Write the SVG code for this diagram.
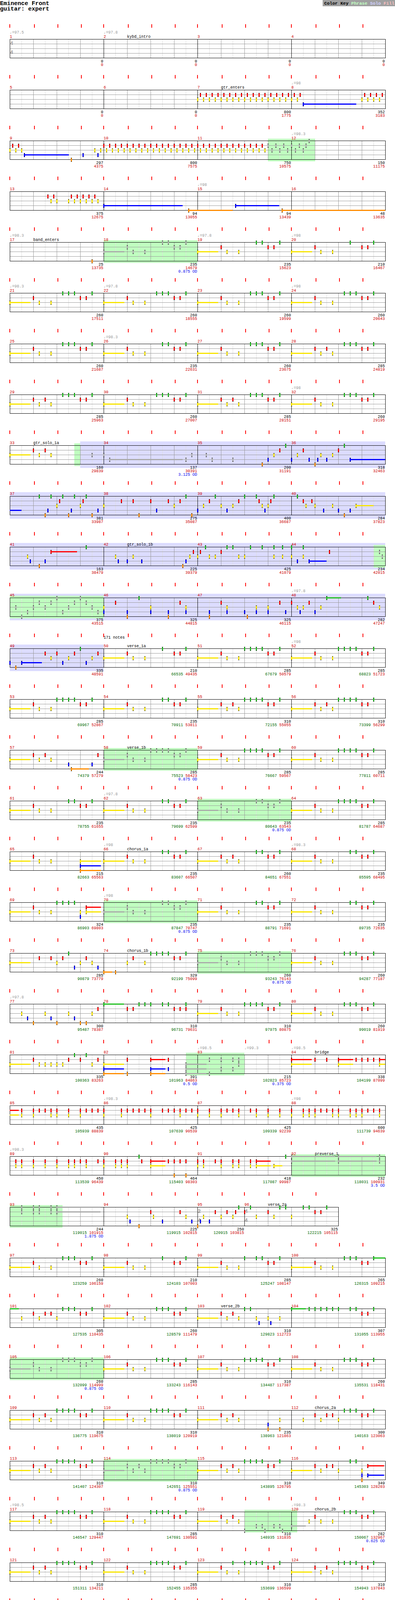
<svg xmlns="http://www.w3.org/2000/svg" width="1010" height="4665" viewBox="0 0 1010 4665">
<style>
text{font-family:"Liberation Mono","DejaVu Sans Mono",monospace;font-size:10px;fill:#000}
.mn{fill:#cc0000}
.tp{fill:#999}
.s1{text-anchor:end}
.s2{text-anchor:end;fill:#cc0000}
.gn{fill:#006a00}
.od{text-anchor:end;fill:#0000ee}
.ts{font-family:"Liberation Sans",Arial,sans-serif;font-weight:bold;font-size:13px;fill:#999}
.ph{fill:#c0ffc0}
.so{fill:#dcdcff}
.tk{fill:#f00}
.l1{stroke:#ddd;fill:none}
.l2{stroke:#999;fill:none}
.l3{stroke:#000;fill:none}
.cG{fill:#1fbf1f}.cR{fill:#f00}.cY{fill:#f7e400}.cB{fill:#00f}.cO{fill:#ff8c00}.cK{fill:#a9a9a9}
.ft{font-size:11.6px;font-weight:bold}
</style>
<defs>
<g id="G" shape-rendering="crispEdges"><rect x="-1.5" y="-4.5" width="3" height="10"/><rect class="cG" x="-1.5" y="-3.5" width="3" height="8"/></g>
<g id="R" shape-rendering="crispEdges"><rect x="-1.5" y="7.5" width="3" height="10"/><rect class="cR" x="-1.5" y="8.5" width="3" height="8"/></g>
<g id="Y" shape-rendering="crispEdges"><rect x="-1.5" y="19.5" width="3" height="10"/><rect class="cY" x="-1.5" y="20.5" width="3" height="8"/></g>
<g id="B" shape-rendering="crispEdges"><rect x="-1.5" y="31.5" width="3" height="10"/><rect class="cB" x="-1.5" y="32.5" width="3" height="8"/></g>
<g id="O" shape-rendering="crispEdges"><rect x="-1.5" y="43.5" width="3" height="10"/><rect class="cO" x="-1.5" y="44.5" width="3" height="8"/></g>
<g id="k0" shape-rendering="crispEdges"><rect x="-1.5" y="-4.5" width="3" height="10"/><rect class="cK" x="-1.5" y="-3.5" width="3" height="8"/></g>
<g id="k1" shape-rendering="crispEdges"><rect x="-1.5" y="7.5" width="3" height="10"/><rect class="cK" x="-1.5" y="8.5" width="3" height="8"/></g>
<g id="k2" shape-rendering="crispEdges"><rect x="-1.5" y="19.5" width="3" height="10"/><rect class="cK" x="-1.5" y="20.5" width="3" height="8"/></g>
<g id="k3" shape-rendering="crispEdges"><rect x="-1.5" y="31.5" width="3" height="10"/><rect class="cK" x="-1.5" y="32.5" width="3" height="8"/></g>
<g id="k4" shape-rendering="crispEdges"><rect x="-1.5" y="43.5" width="3" height="10"/><rect class="cK" x="-1.5" y="44.5" width="3" height="8"/></g>
<g id="RY"><use href="#R"/><use href="#Y"/></g>
<g id="GO"><use href="#G"/><use href="#O"/></g>
<g id="yr4"><use href="#Y"/><use href="#R" x="7.5"/><use href="#Y" x="15"/><use href="#R" x="22.5"/><use href="#Y" x="30"/><use href="#R" x="37.5"/><use href="#Y" x="45"/><use href="#R" x="52.5"/></g>
<g id="ry4"><use href="#R"/><use href="#Y" x="7.5"/><use href="#R" x="15"/><use href="#Y" x="22.5"/><use href="#R" x="30"/><use href="#Y" x="37.5"/><use href="#R" x="45"/><use href="#Y" x="52.5"/></g>
<g id="VE"><rect class="cY" x="0" y="23" width="53" height="3"/><use href="#Y"/><use href="#R" x="60"/><use href="#Y" x="75"/><use href="#Y" x="105"/><use href="#G" x="150"/><use href="#R" x="180"/><use href="#R" x="195"/><use href="#G" x="210"/></g>
<g id="VB"><use href="#VE"/><use href="#G" x="165"/></g>
<g id="VA"><use href="#VB"/><use href="#G" x="135"/></g>
<g id="VC"><use href="#VA"/><use href="#G" x="120"/></g>
<g id="KE"><rect class="cK" x="0" y="23" width="53" height="3"/><use href="#k2"/><use href="#k1" x="60"/><use href="#k2" x="75"/><use href="#k2" x="105"/><use href="#k0" x="150"/><use href="#k1" x="180"/><use href="#k1" x="195"/><use href="#k0" x="210"/></g>
<g id="KB"><use href="#KE"/><use href="#k0" x="165"/></g>
<g id="KA"><use href="#KB"/><use href="#k0" x="135"/></g>
<g id="KC"><use href="#KA"/><use href="#k0" x="120"/></g>
<g id="tk4" class="tk"><rect x="24" y="-38" width="2" height="9"/><rect x="87" y="-38" width="2" height="9"/><rect x="147" y="-38" width="2" height="9"/><rect x="207" y="-38" width="2" height="9"/><rect x="264" y="-38" width="2" height="9"/><rect x="327" y="-38" width="2" height="9"/><rect x="387" y="-38" width="2" height="9"/><rect x="447" y="-38" width="2" height="9"/><rect x="504" y="-38" width="2" height="9"/><rect x="567" y="-38" width="2" height="9"/><rect x="627" y="-38" width="2" height="9"/><rect x="687" y="-38" width="2" height="9"/><rect x="744" y="-38" width="2" height="9"/><rect x="807" y="-38" width="2" height="9"/><rect x="867" y="-38" width="2" height="9"/><rect x="927" y="-38" width="2" height="9"/></g>
<g id="tk3" class="tk"><rect x="24" y="-38" width="2" height="9"/><rect x="87" y="-38" width="2" height="9"/><rect x="147" y="-38" width="2" height="9"/><rect x="207" y="-38" width="2" height="9"/><rect x="264" y="-38" width="2" height="9"/><rect x="327" y="-38" width="2" height="9"/><rect x="387" y="-38" width="2" height="9"/><rect x="447" y="-38" width="2" height="9"/><rect x="504" y="-38" width="2" height="9"/><rect x="567" y="-38" width="2" height="9"/><rect x="624" y="-38" width="2" height="9"/><rect x="687" y="-38" width="2" height="9"/><rect x="747" y="-38" width="2" height="9"/><rect x="807" y="-38" width="2" height="9"/></g>
<g id="st4">
<path class="l1" d="M55.5 0V48M115.5 0V48M175.5 0V48M235.5 0V48M295.5 0V48M355.5 0V48M415.5 0V48M475.5 0V48M535.5 0V48M595.5 0V48M655.5 0V48M715.5 0V48M775.5 0V48M835.5 0V48M895.5 0V48M955.5 0V48"/>
<path class="l2" d="M85.5 0V48M145.5 0V48M205.5 0V48M325.5 0V48M385.5 0V48M445.5 0V48M565.5 0V48M625.5 0V48M685.5 0V48M805.5 0V48M865.5 0V48M925.5 0V48M25 12.5H985M25 24.5H985M25 36.5H985"/>
<path class="l3" d="M25 0.5H986M25 48.5H986M25.5 0V49M265.5 0V49M505.5 0V49M745.5 0V49M985.5 0V49"/>
</g>
<g id="st3">
<path class="l1" d="M55.5 0V48M115.5 0V48M175.5 0V48M235.5 0V48M295.5 0V48M355.5 0V48M415.5 0V48M475.5 0V48M535.5 0V48M595.5 0V48M655.5 0V48M715.5 0V48M775.5 0V48M835.5 0V48"/>
<path class="l2" d="M85.5 0V48M145.5 0V48M205.5 0V48M325.5 0V48M385.5 0V48M445.5 0V48M565.5 0V48M685.5 0V48M745.5 0V48M805.5 0V48M25 12.5H865M25 24.5H865M25 36.5H865"/>
<path class="l3" d="M25 0.5H866M25 48.5H866M25.5 0V49M265.5 0V49M505.5 0V49M625.5 0V49M865.5 0V49"/>
</g>
</defs>
<rect width="1010" height="4665" fill="#fff"/>
<g id="header">
<text x="0" y="13" style="font-size:15px;font-weight:bold">Eminence Front</text>
<text x="0" y="27" style="font-size:15px;font-weight:bold">guitar: expert</text>
<rect x="825" y="0" width="185" height="16" fill="#a0a0a0"/>
<text x="829" y="11.5" style="font-size:11.5px;font-weight:bold">Color Key <tspan fill="#c0ffc0">Phrase</tspan> <tspan fill="#d0d0ff">Solo</tspan> <tspan fill="#ffc0c0">Fill</tspan></text>
</g>

<g id="r0" transform="translate(0,100)">
<use href="#tk4"/><use href="#st4"/>
<text class="ts" x="26" y="15">4</text><text class="ts" x="26" y="38">4</text>
<text class="tp" x="25" y="-14">♩=97.5</text><text class="tp" x="265" y="-14">♩=97.8</text>
<text class="mn" x="25" y="-3">1</text><text class="mn" x="265" y="-3">2</text><text class="mn" x="505" y="-3">3</text><text class="mn" x="745" y="-3">4</text>
<text x="325" y="-3">kybd_intro</text>
<text class="s1" x="264" y="60">0</text><text class="s2" x="264" y="69">0</text>
<text class="s1" x="504" y="60">0</text><text class="s2" x="504" y="69">0</text>
<text class="s1" x="744" y="60">0</text><text class="s2" x="744" y="69">0</text>
<text class="s1" x="984" y="60">0</text><text class="s2" x="984" y="69">0</text>
</g>

<g id="r1" transform="translate(0,230)">
<use href="#tk4"/><use href="#st4"/>
<text class="tp" x="745" y="-14">♩=98</text>
<text class="mn" x="25" y="-3">5</text><text class="mn" x="265" y="-3">6</text><text class="mn" x="505" y="-3">7</text><text class="mn" x="745" y="-3">8</text>
<text x="565" y="-3">gtr_enters</text>
<text class="s1" x="264" y="60">0</text><text class="s2" x="264" y="69">0</text>
<text class="s1" x="504" y="60">0</text><text class="s2" x="504" y="69">0</text>
<text class="s1" x="744" y="60">800</text><text class="s2" x="744" y="69">1775</text>
<text class="s1" x="984" y="60">352</text><text class="s2" x="984" y="69">3183</text>
<use href="#yr4" x="505"/><use href="#yr4" x="565"/><use href="#yr4" x="625"/><use href="#yr4" x="685"/>
<use href="#Y" x="745"/><use href="#R" x="752.5"/><use href="#Y" x="760"/><use href="#R" x="767.5"/>
<rect class="cB" x="775" y="35" width="136" height="3"/><use href="#B" x="775"/>
<use href="#yr4" x="925"/>
</g>

<g id="r2" transform="translate(0,360)">
<use href="#tk4"/>
<rect class="ph" x="685" y="-5" width="121" height="58"/>
<use href="#st4"/>
<text class="tp" x="745" y="-14">♩=98.3</text>
<text class="mn" x="25" y="-3">9</text><text class="mn" x="265" y="-3">10</text><text class="mn" x="505" y="-3">11</text><text class="mn" x="745" y="-3">12</text>
<text class="s1" x="264" y="60">297</text><text class="s2" x="264" y="69">4375</text>
<text class="s1" x="504" y="60">800</text><text class="s2" x="504" y="69">7575</text>
<text class="s1" x="744" y="60">750</text><text class="s2" x="744" y="69">10575</text>
<text class="s1" x="984" y="60">150</text><text class="s2" x="984" y="69">11175</text>
<use href="#Y" x="25"/><use href="#R" x="32.5"/><use href="#Y" x="40"/><use href="#R" x="47.5"/><use href="#Y" x="55"/>
<rect class="cB" x="62" y="35" width="114" height="3"/><use href="#B" x="62.5"/>
<use href="#O" x="182.5"/><use href="#B" x="212"/><use href="#Y" x="242"/><use href="#B" x="250"/><use href="#Y" x="257"/>
<use href="#ry4" x="265"/><use href="#ry4" x="325"/><use href="#ry4" x="385"/><use href="#ry4" x="445"/><use href="#ry4" x="505"/><use href="#ry4" x="565"/><use href="#ry4" x="625"/>
<use href="#k1" x="685"/><use href="#k2" x="695"/><use href="#k1" x="705"/><use href="#k2" x="715"/><use href="#k1" x="725"/><use href="#k2" x="735"/><use href="#k1" x="745"/><use href="#k2" x="755"/><use href="#k1" x="765"/><use href="#k2" x="775"/><use href="#k1" x="782"/><use href="#k0" x="790"/>
</g>

<g id="r3" transform="translate(0,490)">
<use href="#tk4"/><use href="#st4"/>
<text class="tp" x="505" y="-14">♩=98</text>
<text class="mn" x="25" y="-3">13</text><text class="mn" x="265" y="-3">14</text><text class="mn" x="505" y="-3">15</text><text class="mn" x="745" y="-3">16</text>
<text class="s1" x="264" y="60">375</text><text class="s2" x="264" y="69">12675</text>
<text class="s1" x="504" y="60">94</text><text class="s2" x="504" y="69">13055</text>
<text class="s1" x="744" y="60">94</text><text class="s2" x="744" y="69">13439</text>
<text class="s1" x="984" y="60">48</text><text class="s2" x="984" y="69">13635</text>
<use href="#R" x="122.5"/><use href="#Y" x="130"/><use href="#R" x="137.5"/><use href="#Y" x="145"/><use href="#Y" x="175"/><use href="#R" x="182.5"/><use href="#Y" x="190"/><use href="#R" x="197.5"/><use href="#Y" x="205"/><use href="#R" x="212.5"/><use href="#Y" x="220"/><use href="#R" x="227.5"/><use href="#Y" x="235"/><use href="#R" x="242.5"/><use href="#Y" x="250"/>
<rect class="cB" x="265" y="35" width="202" height="3"/><use href="#B" x="265"/>
<rect class="cO" x="482" y="47" width="113" height="3"/><use href="#O" x="482"/>
<rect class="cB" x="602" y="35" width="112" height="3"/><use href="#B" x="602"/>
<rect class="cO" x="721" y="47" width="264" height="3"/><use href="#O" x="721"/>
</g>

<g id="r4" transform="translate(0,620)">
<use href="#tk4"/>
<rect class="ph" x="265" y="-5" width="240" height="58"/>
<use href="#st4"/>
<text class="tp" x="25" y="-14">♩=98.3</text><text class="tp" x="505" y="-14">♩=97.8</text><text class="tp" x="745" y="-14">♩=98</text>
<text class="mn" x="25" y="-3">17</text><text class="mn" x="265" y="-3">18</text><text class="mn" x="505" y="-3">19</text><text class="mn" x="745" y="-3">20</text>
<text x="85" y="-3">band_enters</text>
<text class="s1" x="264" y="60">25</text><text class="s2" x="264" y="69">13735</text>
<text class="s1" x="504" y="60">235</text><text class="s2" x="504" y="69">14679</text><text class="od" x="504" y="78">0.875 OD</text>
<text class="s1" x="744" y="60">235</text><text class="s2" x="744" y="69">15623</text>
<text class="s1" x="984" y="60">210</text><text class="s2" x="984" y="69">16467</text>
<use href="#O" x="235"/><use href="#KB" x="265"/><use href="#VB" x="505"/><use href="#VE" x="745"/>
</g>

<g id="r5" transform="translate(0,750)">
<use href="#tk4"/><use href="#st4"/>
<text class="tp" x="25" y="-14">♩=98.3</text><text class="tp" x="265" y="-14">♩=97.8</text><text class="tp" x="745" y="-14">♩=98</text>
<text class="mn" x="25" y="-3">21</text><text class="mn" x="265" y="-3">22</text><text class="mn" x="505" y="-3">23</text><text class="mn" x="745" y="-3">24</text>
<text class="s1" x="264" y="60">260</text><text class="s2" x="264" y="69">17511</text>
<text class="s1" x="504" y="60">260</text><text class="s2" x="504" y="69">18555</text>
<text class="s1" x="744" y="60">260</text><text class="s2" x="744" y="69">19599</text>
<text class="s1" x="984" y="60">260</text><text class="s2" x="984" y="69">20643</text>
<use href="#VA" x="25"/><use href="#VA" x="265"/><use href="#VA" x="505"/><use href="#VA" x="745"/>
</g>

<g id="r6" transform="translate(0,880)">
<use href="#tk4"/><use href="#st4"/>
<text class="tp" x="265" y="-14">♩=98.3</text>
<text class="mn" x="25" y="-3">25</text><text class="mn" x="265" y="-3">26</text><text class="mn" x="505" y="-3">27</text><text class="mn" x="745" y="-3">28</text>
<text class="s1" x="264" y="60">260</text><text class="s2" x="264" y="69">21687</text>
<text class="s1" x="504" y="60">235</text><text class="s2" x="504" y="69">22631</text>
<text class="s1" x="744" y="60">260</text><text class="s2" x="744" y="69">23675</text>
<text class="s1" x="984" y="60">285</text><text class="s2" x="984" y="69">24819</text>
<use href="#VA" x="25"/><use href="#VB" x="265"/><use href="#VA" x="505"/><use href="#VA" x="745"/><use href="#R" x="835"/>
</g>

<g id="r7" transform="translate(0,1010)">
<use href="#tk4"/><use href="#st4"/>
<text class="tp" x="745" y="-14">♩=98</text>
<text class="mn" x="25" y="-3">29</text><text class="mn" x="265" y="-3">30</text><text class="mn" x="505" y="-3">31</text><text class="mn" x="745" y="-3">32</text>
<text class="s1" x="264" y="60">285</text><text class="s2" x="264" y="69">25963</text>
<text class="s1" x="504" y="60">260</text><text class="s2" x="504" y="69">27007</text>
<text class="s1" x="744" y="60">285</text><text class="s2" x="744" y="69">28151</text>
<text class="s1" x="984" y="60">260</text><text class="s2" x="984" y="69">29195</text>
<use href="#VA" x="25"/><use href="#R" x="115"/><use href="#VA" x="265"/><use href="#VA" x="505"/><use href="#R" x="595"/><use href="#VA" x="745"/>
</g>

<g id="r8" transform="translate(0,1140)">
<use href="#tk4"/>
<rect class="so" x="205" y="-10" width="780" height="68"/>
<rect class="ph" x="190" y="-5" width="15" height="58"/>
<use href="#st4"/>
<text class="mn" x="25" y="-3">33</text><text class="mn" x="265" y="-3">34</text><text class="mn" x="505" y="-3">35</text><text class="mn" x="745" y="-3">36</text>
<text x="85" y="-3">gtr_solo_1a</text>
<text class="s1" x="264" y="60">160</text><text class="s2" x="264" y="69">29839</text>
<text class="s1" x="504" y="60">137</text><text class="s2" x="504" y="69">30391</text><text class="od" x="504" y="78">3.125 OD</text>
<text class="s1" x="744" y="60">200</text><text class="s2" x="744" y="69">31191</text>
<text class="s1" x="984" y="60">318</text><text class="s2" x="984" y="69">32463</text>
<rect class="cY" x="25" y="23" width="53" height="3"/><use href="#Y" x="25"/><use href="#R" x="85"/><use href="#Y" x="100"/><use href="#R" x="115"/><use href="#Y" x="130"/>
<use href="#k2" x="235"/><use href="#k2" x="265"/><rect class="cK" x="280" y="35" width="187" height="3"/><use href="#k3" x="280"/><use href="#k3" x="475"/><use href="#k2" x="490"/>
<use href="#k2" x="527"/><use href="#k3" x="542"/><use href="#k3" x="595"/>
<use href="#O" x="670"/><use href="#B" x="685"/><use href="#Y" x="700"/><use href="#R" x="715"/><use href="#G" x="730"/>
<use href="#B" x="745"/><use href="#Y" x="760"/><use href="#R" x="775"/><use href="#B" x="790"/><use href="#O" x="805"/><use href="#B" x="812"/><use href="#Y" x="820"/><use href="#B" x="835"/><use href="#Y" x="850"/><use href="#R" x="865"/><use href="#G" x="880"/>
<rect class="cB" x="895" y="35" width="90" height="3"/><use href="#B" x="895"/>
</g>

<g id="r9" transform="translate(0,1270)">
<use href="#tk4"/>
<rect class="so" x="25" y="-10" width="960" height="68"/>
<use href="#st4"/>
<text class="mn" x="25" y="-3">37</text><text class="mn" x="265" y="-3">38</text><text class="mn" x="505" y="-3">39</text><text class="mn" x="745" y="-3">40</text>
<text class="s1" x="264" y="60">381</text><text class="s2" x="264" y="69">33987</text>
<text class="s1" x="504" y="60">275</text><text class="s2" x="504" y="69">35087</text>
<text class="s1" x="744" y="60">400</text><text class="s2" x="744" y="69">36687</text>
<text class="s1" x="984" y="60">284</text><text class="s2" x="984" y="69">37823</text>
<rect class="cB" x="25" y="35" width="30" height="3"/>
<use href="#G" x="100"/><use href="#G" x="130"/><use href="#G" x="160"/><use href="#G" x="190"/><use href="#G" x="220"/><use href="#R" x="152"/><use href="#R" x="212"/><use href="#Y" x="145"/><use href="#Y" x="205"/><use href="#B" x="122"/><use href="#B" x="182"/><use href="#B" x="250"/><use href="#O" x="115"/><use href="#O" x="175"/><use href="#O" x="235"/>
<use href="#Y" x="265"/><use href="#R" x="310"/><use href="#R" x="340"/><use href="#R" x="385"/><use href="#R" x="430"/><use href="#R" x="460"/><use href="#O" x="355"/><use href="#B" x="400"/><use href="#Y" x="445"/><use href="#G" x="475"/><use href="#O" x="490"/>
<use href="#B" x="505"/><use href="#Y" x="520"/><use href="#R" x="535"/><use href="#G" x="550"/><use href="#Y" x="565"/><use href="#B" x="580"/><use href="#Y" x="595"/><use href="#R" x="610"/><use href="#G" x="625"/><use href="#G" x="655"/><use href="#R" x="662"/><use href="#Y" x="670"/><use href="#B" x="677"/><use href="#Y" x="685"/><use href="#R" x="692"/><use href="#G" x="700"/>
<use href="#G" x="760"/><use href="#R" x="775"/><use href="#Y" x="782"/><use href="#R" x="797"/><use href="#Y" x="805"/><use href="#B" x="827"/><use href="#Y" x="850"/><use href="#B" x="865"/><use href="#O" x="880"/><use href="#B" x="895"/>
<rect class="cY" x="910" y="23" width="45" height="3"/><use href="#Y" x="910"/>
</g>

<g id="r10" transform="translate(0,1400)">
<use href="#tk4"/>
<rect class="so" x="25" y="-10" width="960" height="68"/>
<rect class="ph" x="955" y="-5" width="30" height="58"/>
<use href="#st4"/>
<text class="mn" x="25" y="-3">41</text><text class="mn" x="265" y="-3">42</text><text class="mn" x="505" y="-3">43</text><text class="mn" x="745" y="-3">44</text>
<text x="325" y="-3">gtr_solo_1b</text>
<text class="s1" x="264" y="60">163</text><text class="s2" x="264" y="69">38479</text>
<text class="s1" x="504" y="60">225</text><text class="s2" x="504" y="69">39379</text>
<text class="s1" x="744" y="60">425</text><text class="s2" x="744" y="69">41079</text>
<text class="s1" x="984" y="60">234</text><text class="s2" x="984" y="69">42015</text>
<use href="#Y" x="70"/><use href="#B" x="77"/><use href="#O" x="100"/><use href="#B" x="115"/><rect class="cR" x="130" y="11" width="67" height="3"/><use href="#R" x="130"/><use href="#G" x="220"/>
<use href="#Y" x="295"/><use href="#B" x="302"/><use href="#B" x="325"/><use href="#Y" x="340"/><use href="#B" x="362"/><use href="#O" x="467"/><use href="#B" x="475"/><use href="#Y" x="485"/><use href="#R" x="494"/>
<use href="#Y" x="505"/><use href="#R" x="512"/><use href="#G" x="525"/><use href="#Y" x="535"/><use href="#Y" x="550"/><use href="#R" x="565"/><use href="#G" x="580"/><use href="#G" x="595"/><use href="#Y" x="610"/><use href="#Y" x="625"/><use href="#G" x="640"/><use href="#G" x="670"/><use href="#G" x="700"/><use href="#Y" x="700"/><use href="#G" x="722"/><use href="#Y" x="722"/>
<use href="#G" x="745"/><use href="#Y" x="745"/><use href="#B" x="760"/><use href="#G" x="775"/><use href="#Y" x="775"/><rect class="cB" x="790" y="35" width="45" height="3"/><use href="#B" x="790"/><use href="#R" x="842"/><use href="#k1" x="970"/><use href="#k2" x="977"/>
</g>

<g id="r11" transform="translate(0,1530)">
<use href="#tk4"/>
<rect class="so" x="25" y="-10" width="960" height="68"/>
<rect class="ph" x="25" y="-5" width="240" height="58"/>
<use href="#st4"/>
<text class="tp" x="745" y="-14">♩=97.8</text>
<text class="mn" x="25" y="-3">45</text><text class="mn" x="265" y="-3">46</text><text class="mn" x="505" y="-3">47</text><text class="mn" x="745" y="-3">48</text>
<text class="s1" x="264" y="60">375</text><text class="s2" x="264" y="69">43515</text>
<text class="s1" x="504" y="60">325</text><text class="s2" x="504" y="69">44815</text>
<text class="s1" x="744" y="60">325</text><text class="s2" x="744" y="69">46115</text>
<text class="s1" x="984" y="60">282</text><text class="s2" x="984" y="69">47247</text>
<use href="#k2" x="40"/><use href="#k4" x="55"/><use href="#k3" x="70"/><use href="#k2" x="85"/><use href="#k1" x="100"/><use href="#k2" x="115"/><use href="#k1" x="130"/><use href="#k0" x="145"/><use href="#k3" x="160"/><use href="#k2" x="175"/><use href="#k1" x="190"/><use href="#k0" x="205"/><use href="#k1" x="220"/><use href="#k2" x="235"/><use href="#k3" x="250"/>
<use href="#Y" x="265"/><use href="#B" x="265"/><use href="#R" x="295"/><use href="#B" x="325"/><use href="#O" x="325"/><use href="#G" x="355"/><use href="#Y" x="385"/><use href="#B" x="385"/><use href="#B" x="430"/><use href="#O" x="430"/><use href="#R" x="460"/><use href="#Y" x="475"/><use href="#B" x="475"/>
<use href="#B" x="535"/><use href="#O" x="535"/><use href="#R" x="565"/><use href="#Y" x="580"/><use href="#B" x="580"/><use href="#B" x="625"/><use href="#O" x="632"/><use href="#Y" x="655"/><use href="#B" x="655"/><use href="#Y" x="685"/><use href="#B" x="685"/><use href="#R" x="715"/><use href="#B" x="730"/>
<use href="#R" x="745"/><use href="#Y" x="760"/><use href="#B" x="767"/><use href="#Y" x="775"/><use href="#R" x="790"/><use href="#B" x="805"/><use href="#Y" x="820"/><rect class="cG" x="835" y="-1" width="37" height="3"/><use href="#G" x="835"/><use href="#G" x="940"/><use href="#R" x="955"/><use href="#Y" x="970"/>
</g>

<g id="r12" transform="translate(0,1660)">
<use href="#tk4"/>
<rect class="so" x="25" y="-10" width="240" height="68"/>
<use href="#st4"/>
<text x="265" y="-25">171 notes</text>
<text class="tp" x="745" y="-14">♩=98</text>
<text class="mn" x="25" y="-3">49</text><text class="mn" x="265" y="-3">50</text><text class="mn" x="505" y="-3">51</text><text class="mn" x="745" y="-3">52</text>
<text x="325" y="-3">verse_1a</text>
<text class="s1" x="264" y="60">335</text><text class="s2" x="264" y="69">48591</text>
<text class="s1" x="504" y="60">210</text><text class="s2" x="504" y="69"><tspan class="gn">66535</tspan> 49435</text>
<text class="s1" x="744" y="60">285</text><text class="s2" x="744" y="69"><tspan class="gn">67679</tspan> 50579</text>
<text class="s1" x="984" y="60">285</text><text class="s2" x="984" y="69"><tspan class="gn">68823</tspan> 51723</text>
<use href="#B" x="25"/><use href="#O" x="40"/><rect class="cB" x="55" y="35" width="52" height="3"/><use href="#B" x="55"/><use href="#R" x="115"/><use href="#Y" x="130"/><use href="#R" x="145"/><use href="#B" x="160"/><use href="#Y" x="175"/><use href="#R" x="190"/><use href="#G" x="205"/><use href="#B" x="220"/><use href="#Y" x="235"/><use href="#R" x="250"/>
<use href="#VE" x="265"/><use href="#VC" x="505"/><use href="#VC" x="745"/>
</g>

<g id="r13" transform="translate(0,1790)">
<use href="#tk4"/><use href="#st4"/>
<text class="mn" x="25" y="-3">53</text><text class="mn" x="265" y="-3">54</text><text class="mn" x="505" y="-3">55</text><text class="mn" x="745" y="-3">56</text>
<text class="s1" x="264" y="60">285</text><text class="s2" x="264" y="69"><tspan class="gn">69967</tspan> 52867</text>
<text class="s1" x="504" y="60">235</text><text class="s2" x="504" y="69"><tspan class="gn">70911</tspan> 53811</text>
<text class="s1" x="744" y="60">310</text><text class="s2" x="744" y="69"><tspan class="gn">72155</tspan> 55055</text>
<text class="s1" x="984" y="60">310</text><text class="s2" x="984" y="69"><tspan class="gn">73399</tspan> 56299</text>
<use href="#VC" x="25"/><use href="#VB" x="265"/><use href="#VC" x="505"/><use href="#R" x="595"/><use href="#VC" x="745"/><use href="#R" x="835"/>
</g>

<g id="r14" transform="translate(0,1920)">
<use href="#tk4"/>
<rect class="ph" x="265" y="-5" width="240" height="58"/>
<use href="#st4"/>
<text class="mn" x="25" y="-3">57</text><text class="mn" x="265" y="-3">58</text><text class="mn" x="505" y="-3">59</text><text class="mn" x="745" y="-3">60</text>
<text x="325" y="-3">verse_1b</text>
<text class="s1" x="264" y="60">244</text><text class="s2" x="264" y="69"><tspan class="gn">74379</tspan> 57279</text>
<text class="s1" x="504" y="60">285</text><text class="s2" x="504" y="69"><tspan class="gn">75523</tspan> 58423</text><text class="od" x="504" y="78">0.875 OD</text>
<text class="s1" x="744" y="60">285</text><text class="s2" x="744" y="69"><tspan class="gn">76667</tspan> 59567</text>
<text class="s1" x="984" y="60">285</text><text class="s2" x="984" y="69"><tspan class="gn">77811</tspan> 60711</text>
<rect class="cY" x="25" y="23" width="53" height="3"/><use href="#Y" x="25"/><use href="#R" x="85"/><use href="#Y" x="100"/><use href="#R" x="115"/><use href="#Y" x="130"/><use href="#B" x="175"/><rect class="cO" x="182" y="47" width="45" height="3"/><use href="#O" x="182"/><use href="#B" x="235"/><use href="#R" x="250"/>
<use href="#KC" x="265"/><use href="#VC" x="505"/><use href="#VC" x="745"/>
</g>

<g id="r15" transform="translate(0,2050)">
<use href="#tk4"/>
<rect class="ph" x="505" y="-5" width="240" height="58"/>
<use href="#st4"/>
<text class="tp" x="265" y="-14">♩=97.8</text>
<text class="mn" x="25" y="-3">61</text><text class="mn" x="265" y="-3">62</text><text class="mn" x="505" y="-3">63</text><text class="mn" x="745" y="-3">64</text>
<text class="s1" x="264" y="60">235</text><text class="s2" x="264" y="69"><tspan class="gn">78755</tspan> 61655</text>
<text class="s1" x="504" y="60">235</text><text class="s2" x="504" y="69"><tspan class="gn">79699</tspan> 62599</text>
<text class="s1" x="744" y="60">235</text><text class="s2" x="744" y="69"><tspan class="gn">80643</tspan> 63543</text><text class="od" x="744" y="78">0.875 OD</text>
<text class="s1" x="984" y="60">285</text><text class="s2" x="984" y="69"><tspan class="gn">81787</tspan> 64687</text>
<use href="#VB" x="25"/><use href="#VB" x="265"/><use href="#KB" x="505"/><use href="#VC" x="745"/>
</g>

<g id="r16" transform="translate(0,2180)">
<use href="#tk4"/><use href="#st4"/>
<text class="tp" x="265" y="-14">♩=98</text><text class="tp" x="745" y="-14">♩=98.3</text>
<text class="mn" x="25" y="-3">65</text><text class="mn" x="265" y="-3">66</text><text class="mn" x="505" y="-3">67</text><text class="mn" x="745" y="-3">68</text>
<text x="325" y="-3">chorus_1a</text>
<text class="s1" x="264" y="60">215</text><text class="s2" x="264" y="69"><tspan class="gn">82663</tspan> 65563</text>
<text class="s1" x="504" y="60">235</text><text class="s2" x="504" y="69"><tspan class="gn">83607</tspan> 66507</text>
<text class="s1" x="744" y="60">260</text><text class="s2" x="744" y="69"><tspan class="gn">84651</tspan> 67551</text>
<text class="s1" x="984" y="60">235</text><text class="s2" x="984" y="69"><tspan class="gn">85595</tspan> 68495</text>
<rect class="cY" x="25" y="23" width="53" height="3"/><use href="#Y" x="25"/><use href="#R" x="85"/><use href="#Y" x="100"/><use href="#Y" x="130"/>
<rect class="cY" x="205" y="23" width="53" height="3"/><rect class="cB" x="205" y="35" width="53" height="3"/><rect class="cO" x="205" y="47" width="53" height="3"/><use href="#Y" x="205"/><use href="#B" x="205"/><use href="#O" x="205"/>
<use href="#VB" x="265"/><use href="#VB" x="505"/><use href="#R" x="595"/><use href="#VB" x="745"/>
</g>

<g id="r17" transform="translate(0,2310)">
<use href="#tk4"/>
<rect class="ph" x="265" y="-5" width="240" height="58"/>
<use href="#st4"/>
<text class="tp" x="265" y="-14">♩=98</text>
<text class="mn" x="25" y="-3">69</text><text class="mn" x="265" y="-3">70</text><text class="mn" x="505" y="-3">71</text><text class="mn" x="745" y="-3">72</text>
<text class="s1" x="264" y="60">324</text><text class="s2" x="264" y="69"><tspan class="gn">86903</tspan> 69803</text>
<text class="s1" x="504" y="60">235</text><text class="s2" x="504" y="69"><tspan class="gn">87847</tspan> 70747</text><text class="od" x="504" y="78">0.875 OD</text>
<text class="s1" x="744" y="60">235</text><text class="s2" x="744" y="69"><tspan class="gn">88791</tspan> 71691</text>
<text class="s1" x="984" y="60">235</text><text class="s2" x="984" y="69"><tspan class="gn">89735</tspan> 72635</text>
<rect class="cY" x="25" y="23" width="53" height="3"/><use href="#Y" x="25"/><use href="#R" x="85"/><use href="#Y" x="100"/><use href="#Y" x="130"/><use href="#G" x="145"/><use href="#G" x="160"/><use href="#G" x="175"/><use href="#G" x="190"/><use href="#Y" x="205"/><use href="#B" x="205"/>
<rect class="cR" x="220" y="11" width="38" height="3"/><rect class="cY" x="220" y="23" width="38" height="3"/><use href="#R" x="220"/><use href="#Y" x="220"/>
<use href="#KB" x="265"/><use href="#VB" x="505"/><use href="#VB" x="745"/>
</g>

<g id="r18" transform="translate(0,2440)">
<use href="#tk4"/>
<rect class="ph" x="505" y="-5" width="240" height="58"/>
<use href="#st4"/>
<text class="mn" x="25" y="-3">73</text><text class="mn" x="265" y="-3">74</text><text class="mn" x="505" y="-3">75</text><text class="mn" x="745" y="-3">76</text>
<text x="325" y="-3">chorus_1b</text>
<text class="s1" x="264" y="60">285</text><text class="s2" x="264" y="69"><tspan class="gn">90879</tspan> 73779</text>
<text class="s1" x="504" y="60">329</text><text class="s2" x="504" y="69"><tspan class="gn">92199</tspan> 75099</text>
<text class="s1" x="744" y="60">260</text><text class="s2" x="744" y="69"><tspan class="gn">93243</tspan> 76143</text><text class="od" x="744" y="78">0.875 OD</text>
<text class="s1" x="984" y="60">260</text><text class="s2" x="984" y="69"><tspan class="gn">94287</tspan> 77187</text>
<rect class="cY" x="25" y="23" width="53" height="3"/><use href="#Y" x="25"/><use href="#R" x="100"/><use href="#R" x="130"/><use href="#Y" x="145"/><use href="#R" x="160"/><use href="#G" x="175"/><use href="#B" x="190"/><use href="#Y" x="205"/><use href="#R" x="220"/><use href="#Y" x="235"/><use href="#B" x="250"/>
<rect class="cO" x="265" y="47" width="22" height="3"/><use href="#O" x="265"/><use href="#O" x="295"/><use href="#Y" x="325"/><use href="#R" x="340"/><use href="#Y" x="370"/><use href="#G" x="385"/><use href="#G" x="400"/><use href="#G" x="415"/><use href="#G" x="430"/><use href="#R" x="445"/><use href="#R" x="460"/><use href="#G" x="475"/>
<use href="#KA" x="505"/><use href="#VA" x="745"/>
</g>

<g id="r19" transform="translate(0,2570)">
<use href="#tk4"/><use href="#st4"/>
<text class="tp" x="25" y="-14">♩=97.8</text>
<text class="mn" x="25" y="-3">77</text><text class="mn" x="265" y="-3">78</text><text class="mn" x="505" y="-3">79</text><text class="mn" x="745" y="-3">80</text>
<text class="s1" x="264" y="60">300</text><text class="s2" x="264" y="69"><tspan class="gn">95487</tspan> 78387</text>
<text class="s1" x="504" y="60">310</text><text class="s2" x="504" y="69"><tspan class="gn">96731</tspan> 79631</text>
<text class="s1" x="744" y="60">310</text><text class="s2" x="744" y="69"><tspan class="gn">97975</tspan> 80875</text>
<text class="s1" x="984" y="60">260</text><text class="s2" x="984" y="69"><tspan class="gn">99019</tspan> 81919</text>
<use href="#Y" x="55"/><use href="#B" x="70"/><use href="#O" x="85"/><use href="#Y" x="115"/><use href="#B" x="130"/><use href="#O" x="145"/><use href="#Y" x="175"/><use href="#B" x="190"/><use href="#O" x="205"/><use href="#O" x="220"/><use href="#Y" x="235"/><use href="#R" x="250"/>
<rect class="cG" x="265" y="-1" width="52" height="3"/><use href="#G" x="265"/><use href="#R" x="325"/><use href="#R" x="340"/><use href="#G" x="355"/><use href="#G" x="370"/><use href="#G" x="385"/><use href="#G" x="415"/><use href="#G" x="430"/><use href="#R" x="445"/><use href="#R" x="460"/><use href="#R" x="475"/><use href="#G" x="475"/>
<use href="#VC" x="505"/><use href="#VA" x="745"/>
</g>

<g id="r20" transform="translate(0,2700)">
<use href="#tk4"/>
<rect class="ph" x="475" y="-5" width="150" height="58"/>
<use href="#st4"/>
<text class="tp" x="505" y="-14">♩=98.5</text><text class="tp" x="625" y="-14">♩=99.3</text><text class="tp" x="745" y="-14">♩=98.5</text>
<text class="mn" x="25" y="-3">81</text><text class="mn" x="265" y="-3">82</text><text class="mn" x="505" y="-3">83</text><text class="mn" x="745" y="-3">84</text>
<text x="805" y="-3">bridge</text>
<text class="s1" x="264" y="60">335</text><text class="s2" x="264" y="69"><tspan class="gn">100363</tspan> 83263</text>
<text class="s1" x="504" y="60">391</text><text class="s2" x="504" y="69"><tspan class="gn">101963</tspan> 84863</text><text class="od" x="504" y="78">0.5 OD</text>
<text class="s1" x="744" y="60">215</text><text class="s2" x="744" y="69"><tspan class="gn">102823</tspan> 85723</text><text class="od" x="744" y="78">0.375 OD</text>
<text class="s1" x="984" y="60">338</text><text class="s2" x="984" y="69"><tspan class="gn">104199</tspan> 87099</text>
<rect class="cY" x="25" y="23" width="53" height="3"/><use href="#Y" x="25"/><use href="#R" x="85"/><use href="#Y" x="100"/><use href="#Y" x="115"/><use href="#Y" x="130"/><use href="#Y" x="145"/><use href="#Y" x="160"/><use href="#R" x="175"/><use href="#G" x="190"/><use href="#R" x="205"/><use href="#G" x="220"/><use href="#Y" x="235"/><use href="#R" x="250"/>
<rect class="cY" x="265" y="23" width="52" height="3"/><rect class="cB" x="265" y="35" width="52" height="3"/><rect class="cO" x="265" y="47" width="52" height="3"/><use href="#Y" x="265"/><use href="#B" x="265"/><use href="#O" x="265"/>
<use href="#R" x="325"/><use href="#O" x="325"/>
<rect class="cR" x="385" y="11" width="38" height="3"/><rect class="cB" x="385" y="35" width="38" height="3"/><rect class="cO" x="385" y="47" width="38" height="3"/><use href="#R" x="385"/><use href="#B" x="385"/><use href="#O" x="385"/>
<use href="#R" x="430"/><use href="#B" x="430"/>
<rect class="cK" x="475" y="23" width="53" height="3"/><rect class="cK" x="475" y="35" width="53" height="3"/><rect class="cK" x="475" y="47" width="53" height="3"/><use href="#k2" x="475"/><use href="#k3" x="475"/><use href="#k4" x="475"/>
<use href="#k1" x="535"/><use href="#k4" x="535"/><use href="#k1" x="565"/><use href="#k3" x="565"/><use href="#k1" x="595"/><use href="#k3" x="595"/><use href="#k1" x="610"/><use href="#k2" x="610"/>
<rect class="cR" x="745" y="11" width="52" height="3"/><rect class="cY" x="745" y="23" width="52" height="3"/><use href="#R" x="745"/><use href="#Y" x="745"/>
<use href="#R" x="805"/><use href="#R" x="835"/>
<rect class="cR" x="865" y="11" width="38" height="3"/><rect class="cY" x="865" y="23" width="38" height="3"/><use href="#R" x="865"/><use href="#Y" x="865"/>
<use href="#R" x="910"/><use href="#R" x="925"/><use href="#R" x="940"/><use href="#R" x="955"/>
<rect class="cR" x="970" y="11" width="15" height="3"/><rect class="cY" x="970" y="23" width="15" height="3"/><use href="#R" x="970"/><use href="#Y" x="970"/>
</g>

<g id="r21" transform="translate(0,2830)">
<use href="#tk4"/><use href="#st4"/>
<text class="tp" x="265" y="-14">♩=98.3</text><text class="tp" x="745" y="-14">♩=98</text>
<text class="mn" x="25" y="-3">85</text><text class="mn" x="265" y="-3">86</text><text class="mn" x="505" y="-3">87</text><text class="mn" x="745" y="-3">88</text>
<text class="s1" x="264" y="60">435</text><text class="s2" x="264" y="69"><tspan class="gn">105939</tspan> 88839</text>
<text class="s1" x="504" y="60">425</text><text class="s2" x="504" y="69"><tspan class="gn">107639</tspan> 90539</text>
<text class="s1" x="744" y="60">425</text><text class="s2" x="744" y="69"><tspan class="gn">109339</tspan> 92239</text>
<text class="s1" x="984" y="60">600</text><text class="s2" x="984" y="69"><tspan class="gn">111739</tspan> 94639</text>
<rect class="cR" x="25" y="11" width="23" height="3"/><rect class="cY" x="25" y="23" width="23" height="3"/>
<use href="#RY" x="55"/><use href="#RY" x="85"/><use href="#R" x="100"/><use href="#R" x="115"/><use href="#RY" x="130"/><use href="#RY" x="145"/><use href="#RY" x="175"/><use href="#RY" x="205"/><use href="#R" x="220"/><use href="#R" x="235"/><use href="#R" x="250"/>
<use href="#RY" x="265"/><use href="#RY" x="310"/><use href="#R" x="325"/><use href="#R" x="340"/><use href="#R" x="355"/><use href="#R" x="370"/><use href="#RY" x="385"/><use href="#R" x="415"/><use href="#R" x="430"/><use href="#R" x="445"/><use href="#RY" x="460"/><use href="#R" x="475"/><use href="#R" x="490"/>
<use href="#RY" x="505"/><use href="#RY" x="535"/><use href="#RY" x="565"/><use href="#R" x="580"/><use href="#R" x="595"/><use href="#RY" x="610"/><use href="#R" x="640"/><use href="#RY" x="655"/><use href="#RY" x="685"/><use href="#RY" x="715"/>
<use href="#RY" x="745"/><use href="#RY" x="775"/><use href="#RY" x="790"/><use href="#RY" x="805"/><use href="#R" x="820"/><use href="#R" x="835"/><use href="#RY" x="850"/><use href="#RY" x="865"/><use href="#RY" x="895"/><use href="#RY" x="910"/><use href="#RY" x="925"/><use href="#R" x="940"/><use href="#R" x="955"/><use href="#RY" x="970"/>
</g>

<g id="r22" transform="translate(0,2960)">
<use href="#tk4"/>
<rect class="ph" x="745" y="-5" width="240" height="58"/>
<use href="#st4"/>
<text class="tp" x="25" y="-14">♩=98.3</text>
<text class="mn" x="25" y="-3">89</text><text class="mn" x="265" y="-3">90</text><text class="mn" x="505" y="-3">91</text><text class="mn" x="745" y="-3">92</text>
<text x="805" y="-3">preverse_1</text>
<text class="s1" x="264" y="60">450</text><text class="s2" x="264" y="69"><tspan class="gn">113539</tspan> 96439</text>
<text class="s1" x="504" y="60">464</text><text class="s2" x="504" y="69"><tspan class="gn">115403</tspan> 98303</text>
<text class="s1" x="744" y="60">418</text><text class="s2" x="744" y="69"><tspan class="gn">117087</tspan> 99987</text>
<text class="s1" x="984" y="60">232</text><text class="s2" x="984" y="69"><tspan class="gn">118031</tspan> 100931</text><text class="od" x="984" y="78">3.5 OD</text>
<use href="#RY" x="40"/><use href="#RY" x="55"/><use href="#RY" x="85"/><use href="#RY" x="115"/><use href="#RY" x="145"/><use href="#RY" x="175"/><use href="#RY" x="190"/><use href="#R" x="205"/><use href="#RY" x="220"/><use href="#R" x="250"/>
<use href="#RY" x="265"/><use href="#RY" x="295"/><use href="#RY" x="310"/><use href="#RY" x="325"/><use href="#G" x="355"/><use href="#R" x="362"/>
<rect class="cR" x="385" y="11" width="38" height="3"/><rect class="cY" x="385" y="23" width="38" height="3"/><use href="#RY" x="385"/>
<use href="#R" x="430"/><use href="#R" x="445"/><use href="#O" x="445"/><use href="#R" x="460"/><use href="#R" x="475"/><use href="#O" x="475"/>
<use href="#RY" x="505"/><use href="#RY" x="520"/><use href="#R" x="550"/><use href="#RY" x="565"/><use href="#RY" x="595"/><use href="#RY" x="610"/><use href="#RY" x="640"/>
<rect class="cR" x="655" y="11" width="37" height="3"/><rect class="cY" x="655" y="23" width="37" height="3"/><use href="#RY" x="655"/>
<rect class="cY" x="700" y="23" width="22" height="3"/><use href="#Y" x="700"/><use href="#G" x="730"/>
<rect class="cK" x="745" y="-1" width="112" height="3"/><rect class="cK" x="745" y="11" width="112" height="3"/><use href="#k0" x="745"/><use href="#k1" x="745"/>
<rect class="cK" x="865" y="-1" width="98" height="3"/><rect class="cK" x="865" y="11" width="98" height="3"/><use href="#k0" x="865"/><use href="#k1" x="865"/>
<use href="#k0" x="970"/><use href="#k1" x="970"/>
</g>

<g id="r23" transform="translate(0,3090)">
<use href="#tk3"/>
<rect class="ph" x="25" y="-5" width="135" height="58"/>
<use href="#st3"/>
<text class="ts" x="506" y="15">2</text><text class="ts" x="506" y="38">4</text><text class="ts" x="626" y="15">4</text><text class="ts" x="626" y="38">4</text>
<text class="mn" x="25" y="-3">93</text><text class="mn" x="265" y="-3">94</text><text class="mn" x="505" y="-3">95</text><text class="mn" x="625" y="-3">96</text>
<text x="685" y="-3">verse_2a</text>
<text class="s1" x="264" y="60">244</text><text class="s2" x="264" y="69"><tspan class="gn">119015</tspan> 101915</text><text class="od" x="264" y="78">1.875 OD</text>
<text class="s1" x="504" y="60">225</text><text class="s2" x="504" y="69"><tspan class="gn">119915</tspan> 102815</text>
<text class="s1" x="624" y="60">250</text><text class="s2" x="624" y="69"><tspan class="gn">120915</tspan> 103815</text>
<text class="s1" x="864" y="60">325</text><text class="s2" x="864" y="69"><tspan class="gn">122215</tspan> 105115</text>
<use href="#k0" x="55"/><use href="#k1" x="55"/><use href="#k0" x="85"/><use href="#k1" x="85"/><use href="#k0" x="100"/><use href="#k1" x="100"/><use href="#k0" x="130"/><use href="#k1" x="130"/>
<rect class="cK" x="145" y="-1" width="112" height="3"/><rect class="cK" x="145" y="11" width="112" height="3"/><use href="#k0" x="145"/><use href="#k1" x="145"/>
<use href="#Y" x="325"/><use href="#B" x="332"/><use href="#O" x="355"/><use href="#R" x="385"/><use href="#Y" x="392"/><use href="#B" x="415"/><use href="#R" x="460"/><use href="#Y" x="475"/><use href="#B" x="490"/>
<use href="#O" x="505"/><use href="#B" x="512"/><use href="#Y" x="520"/><use href="#B" x="535"/><use href="#R" x="550"/><use href="#Y" x="565"/><use href="#R" x="580"/><use href="#Y" x="595"/><use href="#R" x="602"/><use href="#G" x="610"/>
<use href="#R" x="625"/><use href="#G" x="640"/><use href="#Y" x="655"/><use href="#R" x="685"/><use href="#Y" x="700"/><use href="#G" x="715"/><use href="#G" x="730"/><use href="#Y" x="745"/><use href="#G" x="775"/><use href="#G" x="790"/><use href="#R" x="805"/><use href="#R" x="820"/><use href="#G" x="835"/>
</g>

<g id="r24" transform="translate(0,3220)">
<use href="#tk4"/><use href="#st4"/>
<text class="mn" x="25" y="-3">97</text><text class="mn" x="265" y="-3">98</text><text class="mn" x="505" y="-3">99</text><text class="mn" x="745" y="-3">100</text>
<text class="s1" x="264" y="60">260</text><text class="s2" x="264" y="69"><tspan class="gn">123259</tspan> 106159</text>
<text class="s1" x="504" y="60">210</text><text class="s2" x="504" y="69"><tspan class="gn">124103</tspan> 107003</text>
<text class="s1" x="744" y="60">285</text><text class="s2" x="744" y="69"><tspan class="gn">125247</tspan> 108147</text>
<text class="s1" x="984" y="60">265</text><text class="s2" x="984" y="69"><tspan class="gn">126315</tspan> 109215</text>
<use href="#VA" x="25"/><use href="#VE" x="265"/><use href="#VB" x="505"/><use href="#G" x="625"/>
<rect class="cG" x="955" y="-1" width="30" height="3"/><use href="#VA" x="745"/>
</g>

<g id="r25" transform="translate(0,3350)">
<use href="#tk4"/><use href="#st4"/>
<text class="mn" x="25" y="-3">101</text><text class="mn" x="265" y="-3">102</text><text class="mn" x="505" y="-3">103</text><text class="mn" x="745" y="-3">104</text>
<text x="565" y="-3">verse_2b</text>
<text class="s1" x="264" y="60">305</text><text class="s2" x="264" y="69"><tspan class="gn">127535</tspan> 110435</text>
<text class="s1" x="504" y="60">260</text><text class="s2" x="504" y="69"><tspan class="gn">128579</tspan> 111479</text>
<text class="s1" x="744" y="60">310</text><text class="s2" x="744" y="69"><tspan class="gn">129823</tspan> 112723</text>
<text class="s1" x="984" y="60">307</text><text class="s2" x="984" y="69"><tspan class="gn">131055</tspan> 113955</text>
<rect class="cG" x="25" y="-1" width="23" height="3"/>
<use href="#Y" x="55"/><use href="#R" x="85"/><use href="#Y" x="100"/><use href="#R" x="115"/><use href="#R" x="130"/><use href="#Y" x="145"/><use href="#G" x="160"/><use href="#G" x="175"/><use href="#G" x="190"/><use href="#R" x="205"/><use href="#R" x="220"/><use href="#G" x="235"/>
<use href="#VA" x="265"/>
<rect class="cY" x="505" y="23" width="53" height="3"/><use href="#Y" x="505"/><use href="#R" x="565"/><use href="#Y" x="580"/><use href="#R" x="595"/><use href="#Y" x="610"/><use href="#G" x="625"/><use href="#G" x="640"/><use href="#Y" x="655"/><use href="#B" x="662"/><use href="#Y" x="685"/><use href="#B" x="692"/><use href="#Y" x="715"/>
<rect class="cG" x="745" y="-1" width="37" height="3"/><use href="#G" x="745"/><use href="#G" x="790"/><use href="#G" x="805"/><use href="#G" x="820"/><use href="#G" x="835"/><use href="#G" x="850"/><use href="#G" x="865"/><use href="#G" x="895"/><use href="#G" x="910"/><use href="#R" x="925"/><use href="#R" x="940"/><use href="#G" x="955"/>
</g>

<g id="r26" transform="translate(0,3480)">
<use href="#tk4"/>
<rect class="ph" x="25" y="-5" width="240" height="58"/>
<use href="#st4"/>
<text class="mn" x="25" y="-3">105</text><text class="mn" x="265" y="-3">106</text><text class="mn" x="505" y="-3">107</text><text class="mn" x="745" y="-3">108</text>
<text class="s1" x="264" y="60">260</text><text class="s2" x="264" y="69"><tspan class="gn">132099</tspan> 114999</text><text class="od" x="264" y="78">0.875 OD</text>
<text class="s1" x="504" y="60">285</text><text class="s2" x="504" y="69"><tspan class="gn">133243</tspan> 116143</text>
<text class="s1" x="744" y="60">310</text><text class="s2" x="744" y="69"><tspan class="gn">134487</tspan> 117387</text>
<text class="s1" x="984" y="60">260</text><text class="s2" x="984" y="69"><tspan class="gn">135531</tspan> 118431</text>
<use href="#KA" x="25"/><use href="#VA" x="265"/><use href="#VC" x="505"/><use href="#VA" x="745"/>
</g>

<g id="r27" transform="translate(0,3610)">
<use href="#tk4"/><use href="#st4"/>
<text class="mn" x="25" y="-3">109</text><text class="mn" x="265" y="-3">110</text><text class="mn" x="505" y="-3">111</text><text class="mn" x="745" y="-3">112</text>
<text x="805" y="-3">chorus_2a</text>
<text class="s1" x="264" y="60">310</text><text class="s2" x="264" y="69"><tspan class="gn">136775</tspan> 119675</text>
<text class="s1" x="504" y="60">310</text><text class="s2" x="504" y="69"><tspan class="gn">138019</tspan> 120919</text>
<text class="s1" x="744" y="60">235</text><text class="s2" x="744" y="69"><tspan class="gn">138963</tspan> 121863</text>
<text class="s1" x="984" y="60">300</text><text class="s2" x="984" y="69"><tspan class="gn">140163</tspan> 123063</text>
<use href="#VC" x="25"/><use href="#R" x="115"/><use href="#VC" x="265"/>
<rect class="cY" x="505" y="23" width="53" height="3"/><use href="#Y" x="505"/><use href="#R" x="565"/><use href="#Y" x="580"/><use href="#R" x="595"/><use href="#Y" x="610"/><use href="#B" x="685"/><use href="#O" x="685"/><use href="#Y" x="715"/><use href="#O" x="715"/>
<use href="#Y" x="775"/><use href="#R" x="805"/><use href="#Y" x="820"/><use href="#R" x="835"/><use href="#R" x="850"/><use href="#Y" x="865"/><use href="#G" x="880"/><use href="#G" x="895"/><use href="#G" x="910"/><use href="#R" x="925"/><use href="#R" x="940"/><use href="#G" x="955"/>
</g>

<g id="r28" transform="translate(0,3740)">
<use href="#tk4"/>
<rect class="ph" x="265" y="-5" width="240" height="58"/>
<use href="#st4"/>
<text class="mn" x="25" y="-3">113</text><text class="mn" x="265" y="-3">114</text><text class="mn" x="505" y="-3">115</text><text class="mn" x="745" y="-3">116</text>
<text class="s1" x="264" y="60">310</text><text class="s2" x="264" y="69"><tspan class="gn">141407</tspan> 124307</text>
<text class="s1" x="504" y="60">310</text><text class="s2" x="504" y="69"><tspan class="gn">142651</tspan> 125551</text><text class="od" x="504" y="78">0.875 OD</text>
<text class="s1" x="744" y="60">310</text><text class="s2" x="744" y="69"><tspan class="gn">143895</tspan> 126795</text>
<text class="s1" x="984" y="60">349</text><text class="s2" x="984" y="69"><tspan class="gn">145303</tspan> 128203</text>
<use href="#VC" x="25"/><use href="#R" x="115"/><use href="#KC" x="265"/><use href="#k1" x="355"/><use href="#VC" x="505"/><use href="#R" x="595"/>
<rect class="cY" x="745" y="23" width="53" height="3"/><use href="#Y" x="745"/><use href="#R" x="805"/><use href="#Y" x="820"/><use href="#R" x="835"/><use href="#R" x="850"/><use href="#Y" x="865"/><use href="#G" x="895"/><use href="#G" x="910"/><use href="#Y" x="925"/><use href="#B" x="925"/><use href="#O" x="925"/>
<rect class="cR" x="940" y="11" width="42" height="3"/><rect class="cB" x="940" y="35" width="42" height="3"/><use href="#R" x="940"/><use href="#B" x="940"/>
</g>

<g id="r29" transform="translate(0,3870)">
<use href="#tk4"/>
<rect class="ph" x="625" y="-5" width="135" height="58"/>
<use href="#st4"/>
<text class="tp" x="25" y="-14">♩=98.5</text><text class="tp" x="745" y="-14">♩=98.3</text>
<text class="mn" x="25" y="-3">117</text><text class="mn" x="265" y="-3">118</text><text class="mn" x="505" y="-3">119</text><text class="mn" x="745" y="-3">120</text>
<text x="805" y="-3">chorus_2b</text>
<text class="s1" x="264" y="60">310</text><text class="s2" x="264" y="69"><tspan class="gn">146547</tspan> 129447</text>
<text class="s1" x="504" y="60">285</text><text class="s2" x="504" y="69"><tspan class="gn">147691</tspan> 130591</text>
<text class="s1" x="744" y="60">310</text><text class="s2" x="744" y="69"><tspan class="gn">148935</tspan> 131835</text>
<text class="s1" x="984" y="60">282</text><text class="s2" x="984" y="69"><tspan class="gn">150067</tspan> 132967</text><text class="od" x="984" y="78">0.625 OD</text>
<use href="#VC" x="25"/><use href="#R" x="115"/><use href="#VC" x="265"/>
<rect class="cY" x="505" y="23" width="53" height="3"/><use href="#Y" x="505"/><use href="#R" x="565"/><use href="#Y" x="580"/><use href="#R" x="595"/><use href="#Y" x="610"/>
<use href="#k4" x="625"/><use href="#k3" x="655"/><use href="#k3" x="670"/><use href="#k4" x="677"/><use href="#k3" x="700"/><use href="#k3" x="715"/><use href="#k4" x="722"/><rect class="cK" x="745" y="35" width="37" height="3"/><use href="#k3" x="745"/>
<use href="#Y" x="790"/><use href="#R" x="805"/><use href="#Y" x="820"/><use href="#Y" x="850"/><use href="#G" x="880"/><use href="#G" x="895"/><use href="#G" x="910"/><use href="#R" x="925"/><use href="#R" x="940"/><use href="#G" x="955"/>
</g>

<g id="r30" transform="translate(0,4000)">
<use href="#tk4"/><use href="#st4"/>
<text class="mn" x="25" y="-3">121</text><text class="mn" x="265" y="-3">122</text><text class="mn" x="505" y="-3">123</text><text class="mn" x="745" y="-3">124</text>
<text class="s1" x="264" y="60">310</text><text class="s2" x="264" y="69"><tspan class="gn">151311</tspan> 134211</text>
<text class="s1" x="504" y="60">285</text><text class="s2" x="504" y="69"><tspan class="gn">152455</tspan> 135355</text>
<text class="s1" x="744" y="60">310</text><text class="s2" x="744" y="69"><tspan class="gn">153699</tspan> 136599</text>
<text class="s1" x="984" y="60">310</text><text class="s2" x="984" y="69"><tspan class="gn">154943</tspan> 137843</text>
<use href="#VC" x="25"/><use href="#R" x="115"/><use href="#VC" x="265"/><use href="#VC" x="505"/><use href="#G" x="595"/><use href="#VC" x="745"/><use href="#R" x="835"/>
</g>

<g id="r31" transform="translate(0,4130)">
<use href="#tk4"/><use href="#st4"/>
<text class="mn" x="25" y="-3">125</text><text class="mn" x="265" y="-3">126</text><text class="mn" x="505" y="-3">127</text><text class="mn" x="745" y="-3">128</text>
<text x="805" y="-3">outro</text>
<text class="s1" x="264" y="60">310</text><text class="s2" x="264" y="69"><tspan class="gn">156187</tspan> 139087</text>
<text class="s1" x="504" y="60">185</text><text class="s2" x="504" y="69"><tspan class="gn">156931</tspan> 139831</text>
<text class="s1" x="744" y="60">180</text><text class="s2" x="744" y="69"><tspan class="gn">157651</tspan> 140551</text>
<text class="s1" x="984" y="60">364</text><text class="s2" x="984" y="69"><tspan class="gn">159115</tspan> 142015</text>
<use href="#VC" x="25"/><use href="#R" x="115"/>
<rect class="cY" x="265" y="23" width="53" height="3"/><use href="#Y" x="265"/><use href="#R" x="325"/><use href="#Y" x="340"/><use href="#R" x="355"/><use href="#Y" x="370"/><use href="#B" x="475"/><use href="#O" x="475"/>
<use href="#B" x="520"/><use href="#O" x="520"/><rect class="cB" x="565" y="35" width="75" height="3"/><rect class="cO" x="565" y="47" width="75" height="3"/><use href="#B" x="565"/><use href="#O" x="565"/><use href="#B" x="655"/><use href="#O" x="655"/>
<use href="#GO" x="745"/><use href="#G" x="790"/><use href="#G" x="805"/><use href="#GO" x="835"/><rect class="cG" x="865" y="-1" width="38" height="3"/><rect class="cO" x="865" y="47" width="38" height="3"/><use href="#GO" x="865"/><use href="#GO" x="910"/><use href="#G" x="925"/><use href="#G" x="955"/><use href="#GO" x="970"/>
</g>

<g id="r32" transform="translate(0,4260)">
<use href="#tk4"/><use href="#st4"/>
<text class="tp" x="505" y="-14">♩=97.8</text>
<text class="mn" x="25" y="-3">129</text><text class="mn" x="265" y="-3">130</text><text class="mn" x="505" y="-3">131</text><text class="mn" x="745" y="-3">132</text>
<text class="s1" x="264" y="60">364</text><text class="s2" x="264" y="69"><tspan class="gn">160579</tspan> 143479</text>
<text class="s1" x="504" y="60">282</text><text class="s2" x="504" y="69"><tspan class="gn">161711</tspan> 144611</text>
<text class="s1" x="744" y="60">414</text><text class="s2" x="744" y="69"><tspan class="gn">163375</tspan> 146275</text>
<text class="s1" x="984" y="60">389</text><text class="s2" x="984" y="69"><tspan class="gn">164939</tspan> 147839</text>
<rect class="cG" x="25" y="-1" width="38" height="3"/><rect class="cO" x="25" y="47" width="38" height="3"/><use href="#GO" x="25"/><use href="#GO" x="70"/><use href="#G" x="85"/><use href="#GO" x="100"/><use href="#GO" x="130"/><use href="#GO" x="175"/><use href="#G" x="190"/><use href="#GO" x="220"/>
<use href="#GO" x="295"/><use href="#G" x="325"/><use href="#GO" x="355"/><rect class="cO" x="385" y="47" width="38" height="3"/><use href="#GO" x="385"/><use href="#GO" x="430"/><use href="#GO" x="475"/>
<rect class="cG" x="505" y="-1" width="38" height="3"/><rect class="cO" x="505" y="47" width="38" height="3"/><use href="#GO" x="505"/><use href="#GO" x="550"/><use href="#G" x="565"/><use href="#GO" x="580"/><use href="#G" x="595"/><use href="#G" x="610"/><use href="#G" x="625"/><use href="#GO" x="655"/><use href="#GO" x="685"/><use href="#GO" x="715"/>
<rect class="cG" x="745" y="-1" width="38" height="3"/><rect class="cO" x="745" y="47" width="38" height="3"/><use href="#GO" x="745"/><use href="#GO" x="790"/><use href="#G" x="805"/><use href="#GO" x="835"/><use href="#G" x="865"/><use href="#GO" x="880"/><use href="#G" x="910"/><use href="#O" x="925"/><use href="#G" x="940"/><use href="#O" x="955"/>
</g>

<g id="r33" transform="translate(0,4390)">
<use href="#tk4"/><use href="#st4"/>
<text class="tp" x="505" y="-14">♩=98</text>
<text class="mn" x="25" y="-3">133</text><text class="mn" x="265" y="-3">134</text><text class="mn" x="505" y="-3">135</text><text class="mn" x="745" y="-3">136</text>
<text class="s1" x="264" y="60">414</text><text class="s2" x="264" y="69"><tspan class="gn">166603</tspan> 149503</text>
<text class="s1" x="504" y="60">439</text><text class="s2" x="504" y="69"><tspan class="gn">168367</tspan> 151267</text>
<text class="s1" x="744" y="60">395</text><text class="s2" x="744" y="69"><tspan class="gn">169955</tspan> 152855</text>
<text class="s1" x="984" y="60">148</text><text class="s2" x="984" y="69"><tspan class="gn">170547</tspan> 153447</text>
<rect class="cG" x="25" y="-1" width="38" height="3"/><rect class="cO" x="25" y="47" width="38" height="3"/><use href="#GO" x="25"/><use href="#GO" x="70"/><use href="#G" x="85"/><use href="#GO" x="100"/><use href="#G" x="130"/><use href="#G" x="145"/><use href="#GO" x="175"/><use href="#G" x="190"/><use href="#G" x="205"/><use href="#GO" x="220"/><use href="#G" x="250"/>
<rect class="cG" x="265" y="-1" width="37" height="3"/><rect class="cO" x="265" y="47" width="37" height="3"/><use href="#GO" x="265"/><use href="#GO" x="310"/><use href="#G" x="325"/><use href="#GO" x="355"/><use href="#GO" x="385"/><use href="#GO" x="430"/><use href="#G" x="445"/><use href="#GO" x="460"/><use href="#G" x="475"/><use href="#G" x="490"/>
<use href="#G" x="505"/><use href="#G" x="520"/><use href="#GO" x="535"/><use href="#G" x="550"/><use href="#GO" x="580"/><use href="#G" x="595"/><use href="#G" x="610"/><rect class="cG" x="625" y="-1" width="52" height="3"/><rect class="cO" x="625" y="47" width="52" height="3"/><use href="#GO" x="625"/><use href="#GO" x="685"/><use href="#G" x="715"/><use href="#G" x="730"/>
<rect class="cG" x="745" y="-1" width="60" height="3"/><rect class="cR" x="745" y="11" width="60" height="3"/><use href="#G" x="745"/><use href="#R" x="745"/>
<rect class="cR" x="865" y="11" width="60" height="3"/><rect class="cB" x="865" y="35" width="60" height="3"/><use href="#R" x="865"/><use href="#B" x="865"/>
</g>

<g id="r34" transform="translate(0,4520)">
<use href="#tk3"/><use href="#st3"/>
<text class="ts" x="506" y="15">2</text><text class="ts" x="506" y="38">4</text><text class="ts" x="626" y="15">4</text><text class="ts" x="626" y="38">4</text>
<text class="mn" x="25" y="-3">137</text><text class="mn" x="265" y="-3">138</text><text class="mn" x="505" y="-3">139</text><text class="mn" x="625" y="-3">140</text>
<text class="s1" x="264" y="60">300</text><text class="s2" x="264" y="69"><tspan class="gn">171747</tspan> 154647</text>
<text class="s1" x="504" y="60">475</text><text class="s2" x="504" y="69"><tspan class="gn">173647</tspan> 156547</text>
<text class="s1" x="624" y="60">150</text><text class="s2" x="624" y="69"><tspan class="gn">174247</tspan> 157147</text>
<text class="s1" x="864" y="60">75</text><text class="s2" x="864" y="69"><tspan class="gn">174547</tspan> 157447</text>
<use href="#Y" x="40"/><use href="#B" x="47"/><use href="#O" x="70"/><use href="#Y" x="85"/><use href="#R" x="152"/><use href="#Y" x="167"/><use href="#B" x="182"/><use href="#O" x="197"/><use href="#B" x="212"/><use href="#Y" x="227"/><use href="#R" x="242"/><use href="#G" x="257"/>
<use href="#Y" x="272"/><use href="#B" x="280"/><use href="#Y" x="287"/><use href="#R" x="295"/><use href="#G" x="310"/><use href="#Y" x="317"/><use href="#O" x="325"/><use href="#Y" x="340"/><use href="#R" x="355"/><use href="#G" x="378"/><use href="#G" x="381"/><use href="#G" x="385"/><use href="#R" x="400"/><use href="#Y" x="415"/><use href="#R" x="430"/><use href="#B" x="452"/><use href="#B" x="467"/><use href="#B" x="490"/>
<use href="#O" x="520"/><use href="#B" x="535"/><use href="#B" x="565"/><use href="#Y" x="580"/><use href="#R" x="602"/>
<use href="#G" x="625"/><use href="#R" x="625"/>
</g>

<g id="footer">
<text class="ft" x="0" y="4649">http://charts.ajanata.com/rb/</text>
<text class="ft" x="0" y="4662" style="fill:#e00000">WARNING: Work in progress. This information has NOT BEEN VERIFIED and MAY BE INCORRECT.</text>
<text class="ft" x="689" y="4649" style="fill:#888">Generated at Fri, 26 Aug 2011 04:33:44 -0400.</text>
<text class="ft" x="689" y="4662" style="fill:#888">Generated by ajanata's Chart Generator, r299.</text>
</g>
</svg>
